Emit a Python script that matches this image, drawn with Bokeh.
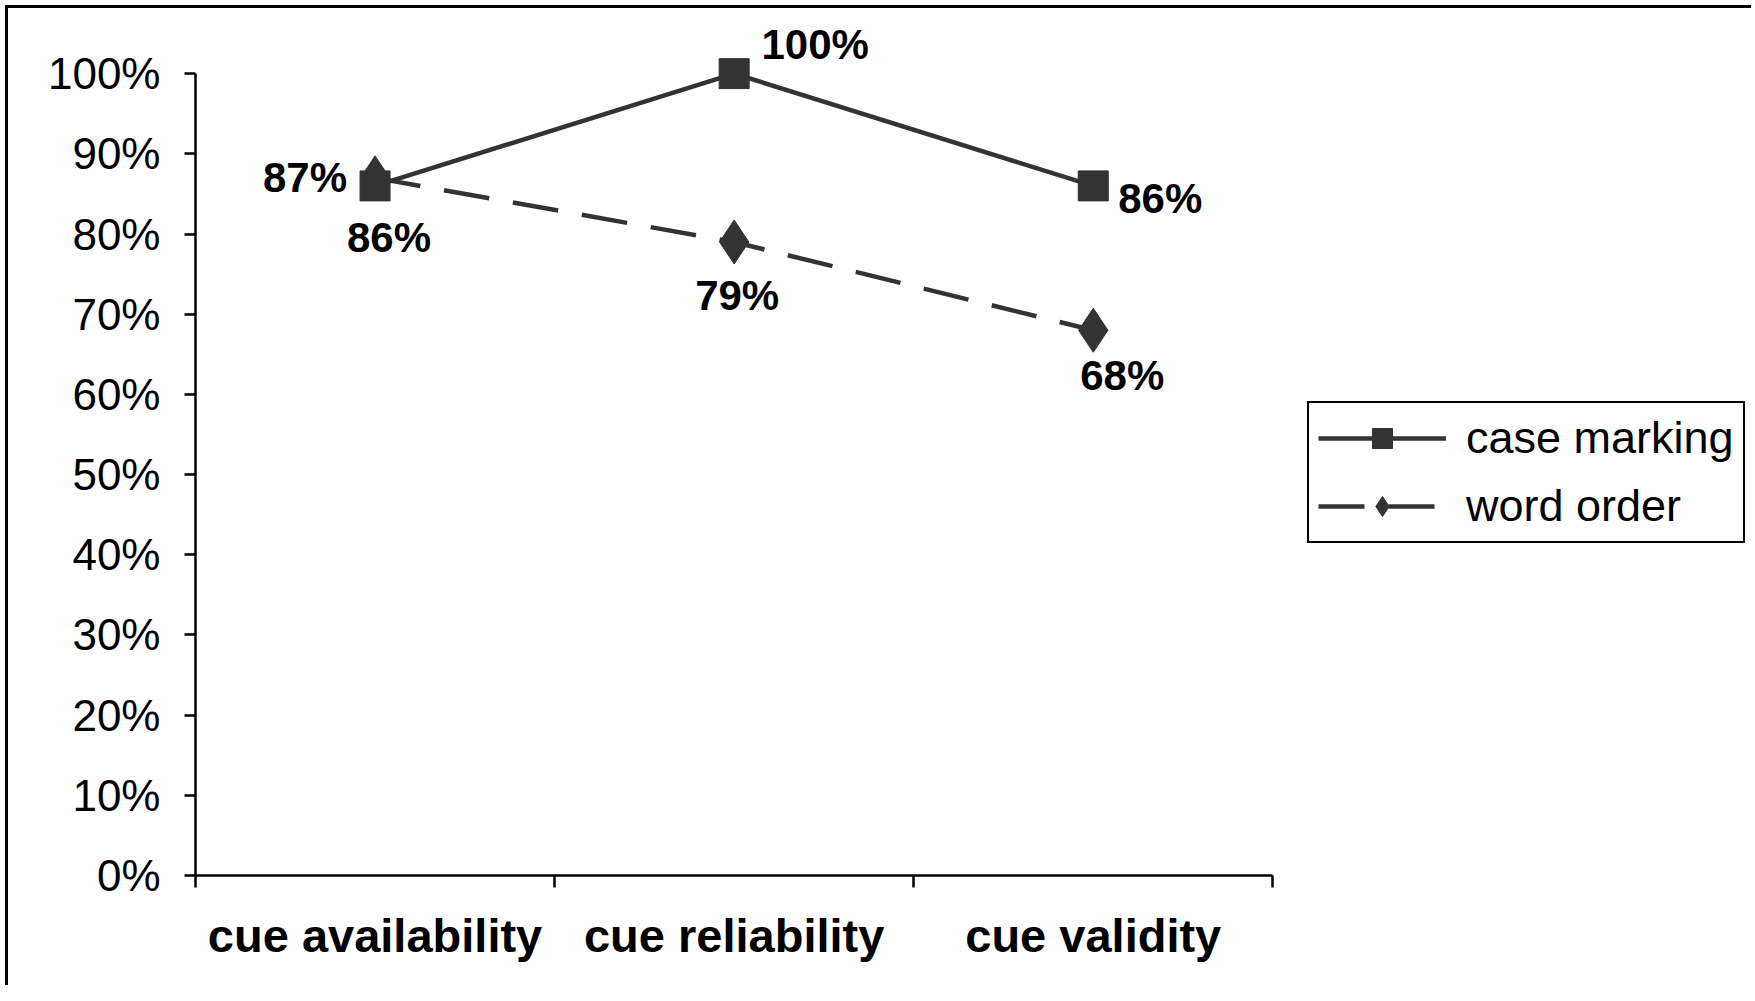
from bokeh.plotting import figure
from bokeh.models import (ColumnDataSource, Range1d, Legend, LegendItem,
                          NumeralTickFormatter, LabelSet, FixedTicker)
from bokeh.core.properties import value
from bokeh.embed import file_html
from bokeh.resources import INLINE

# ---- data ----
categories = ["cue availability", "cue reliability", "cue validity"]
case_marking = [0.86, 1.00, 0.86]
word_order = [0.87, 0.79, 0.68]
y_ticks = [0.0, 0.1, 0.2, 0.3, 0.4, 0.5, 0.6, 0.7, 0.8, 0.9, 1.0]

# label offsets (styling, screen px)
cm_dx = [14, 81, 67]
cm_dy = [-52, 29, -13]
wo_dx = [-70, 3, 29]
wo_dy = [0, -53, -45]

xc = [i + 0.5 for i in range(len(categories))]
src_cm = ColumnDataSource(dict(x=xc, y=case_marking,
                               t=[f"{round(v*100)}%" for v in case_marking],
                               dx=cm_dx, dy=cm_dy))
src_wo = ColumnDataSource(dict(x=xc, y=word_order,
                               t=[f"{round(v*100)}%" for v in word_order],
                               dx=wo_dx, dy=wo_dy))

p = figure(frame_width=1556, frame_height=862,
           x_range=Range1d(0, 4.333), y_range=Range1d(0, 1.075),
           output_backend="svg", toolbar_location=None,
           min_border_left=187, min_border_top=5,
           min_border_right=0, min_border_bottom=110)
p.styles = {"border-left": "3px solid black", "border-top": "3px solid black",
            "margin-left": "5px", "margin-top": "5px"}
p.grid.visible = False
p.outline_line_color = None
p.background_fill_color = "white"
p.border_fill_color = "white"

DARK = "#333333"
wo_line = p.line("x", "y", source=src_wo, line_color=DARK, line_width=4.5,
                 line_dash="46 24")
wo_mark = p.scatter("x", "y", source=src_wo, marker="diamond", size=44,
                    fill_color=DARK, line_color=DARK)
cm_line = p.line("x", "y", source=src_cm, line_color=DARK, line_width=4.5)
cm_mark = p.scatter("x", "y", source=src_cm, marker="square", size=30,
                    fill_color=DARK, line_color=DARK)

for s in (src_cm, src_wo):
    p.add_layout(LabelSet(x="x", y="y", text="t", source=s,
                          x_offset="dx", y_offset="dy",
                          text_align="center", text_baseline="middle",
                          text_font=value("Liberation Sans"),
                          text_font_style="bold",
                          text_font_size="42px", text_color="black"))

# y axis
ya = p.yaxis[0]
ya.bounds = (0, 1)
ya.ticker = FixedTicker(ticks=y_ticks, minor_ticks=[])
ya.formatter = NumeralTickFormatter(format="0%")
ya.major_tick_in = 0
ya.major_tick_out = 11
ya.axis_line_width = 2.5
ya.major_tick_line_width = 2.5
ya.major_label_text_font = "Liberation Sans"
ya.major_label_text_font_size = "44px"
ya.major_label_text_color = "black"
ya.major_label_standoff = 24

# x axis: ticks at category boundaries, labels at centers
xa = p.xaxis[0]
xa.bounds = (0, len(categories))
xa.ticker = FixedTicker(ticks=xc,
                        minor_ticks=list(range(len(categories) + 1)))
xa.major_label_overrides = {v: c for v, c in zip(xc, categories)}
xa.major_tick_in = 0
xa.major_tick_out = 0
xa.minor_tick_in = 0
xa.minor_tick_out = 12
xa.minor_tick_line_width = 2.5
xa.axis_line_width = 2.5
xa.major_label_text_font = "Liberation Sans"
xa.major_label_text_font_style = "bold"
xa.major_label_text_font_size = "47px"
xa.major_label_text_color = "black"
xa.major_label_standoff = 21

legend = Legend(items=[LegendItem(label="case marking", renderers=[cm_line, cm_mark]),
                       LegendItem(label="word order", renderers=[wo_line, wo_mark])],
                location=(1112, 332))
legend.border_line_color = "black"
legend.border_line_alpha = 1
legend.border_line_width = 2.5
legend.padding = 9
legend.spacing = 16
legend.glyph_width = 128
legend.glyph_height = 50
legend.label_height = 50
legend.label_standoff = 20
legend.label_text_font = "Liberation Sans"
legend.label_text_font_size = "45px"
legend.label_text_color = "black"
legend.background_fill_alpha = 1
legend.margin = 0
p.add_layout(legend, "center")

open("out.html", "w").write(file_html(p, INLINE))
